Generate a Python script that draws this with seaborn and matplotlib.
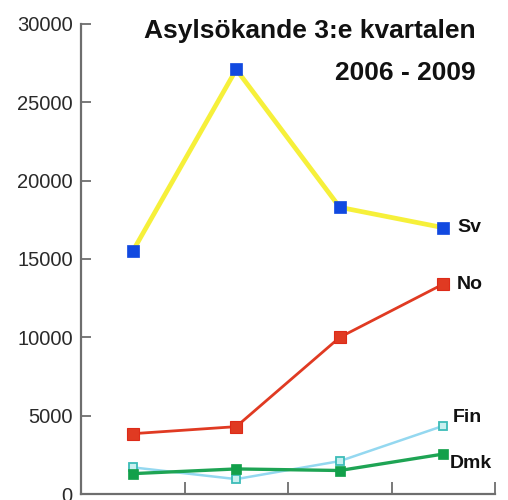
import matplotlib
matplotlib.use("Agg")
import matplotlib.pyplot as plt
import seaborn as sns
import pandas as pd

years = ["2006", "2007", "2008", "2009"]
series_names = ["Sv", "No", "Fin", "Dmk"]
sv = [15500, 27100, 18300, 17000]
no = [3850, 4300, 10000, 13400]
fin = [1700, 950, 2100, 4350]
dmk = [1300, 1600, 1500, 2550]
yticks = [0, 5000, 10000, 15000, 20000, 25000, 30000]

sns.set_theme(style="white")
plt.rcParams["font.family"] = ["Liberation Sans", "DejaVu Sans"]

fig = plt.figure(figsize=(5.08, 5.0), dpi=100)
ax = fig.add_axes([81 / 508, 1 - 494 / 500, 414 / 508, 470 / 500])

styles = {
    "Sv": dict(color="#f6f03a", lw=3.4, mfc="#1149e0", mec="#1149e0", ms=9, mew=0.5),
    "No": dict(color="#e03a22", lw=2.0, mfc="#e03a22", mec="#dd2a18", ms=8, mew=0.8),
    "Fin": dict(color="#94d8f0", lw=1.8, mfc="#c8f0f0", mec="#3cbcb8", ms=6, mew=1.3),
    "Dmk": dict(color="#1ea454", lw=2.4, mfc="#12a04a", mec="#12a04a", ms=6.5, mew=0.5),
}
values = {"Sv": sv, "No": no, "Fin": fin, "Dmk": dmk}

for name in series_names:
    df = pd.DataFrame({"year": years, "value": values[name]})
    st = styles[name]
    sns.lineplot(data=df, x="year", y="value", ax=ax, color=st["color"], lw=st["lw"],
                 marker="s", markersize=st["ms"], markerfacecolor=st["mfc"],
                 markeredgecolor=st["mec"], markeredgewidth=st["mew"], sort=False)

offsets = {"Sv": (10, 0), "No": (10, 0), "Fin": (7, 6), "Dmk": (5, -7)}
for name in series_names:
    ax.annotate(name, xy=(3, values[name][-1]), xytext=offsets[name], textcoords="offset points",
                ha="left", va="center", fontsize=14, fontweight="bold", color="#111111")

ax.set_xlim(-0.5, 3.5)
ax.set_ylim(0, 30000)
ax.set_yticks(yticks)
ax.set_yticklabels([str(v) for v in yticks])
ax.set_xticks([0.5, 1.5, 2.5, 3.5])
ax.set_xticklabels([])
ax.set_xlabel("")
ax.set_ylabel("")
for s in ["top", "right"]:
    ax.spines[s].set_visible(False)
for s in ["left", "bottom"]:
    ax.spines[s].set_color("#6e6e6e")
    ax.spines[s].set_linewidth(1.6)
ax.tick_params(axis="both", direction="in", length=7, width=1.3, color="#6e6e6e",
               left=True, bottom=True)
ax.tick_params(axis="y", labelsize=14.5, labelcolor="#2a2a2a", pad=6)
ax.tick_params(axis="x", length=9)

fig.text(476 / 508, 1 - 38 / 500, "Asylsökande 3:e kvartalen", ha="right", va="baseline",
         fontsize=19, fontweight="bold", color="#111111")
fig.text(476 / 508, 1 - 80 / 500, "2006 - 2009", ha="right", va="baseline",
         fontsize=19, fontweight="bold", color="#111111")

fig.savefig("out.png", dpi=100)
